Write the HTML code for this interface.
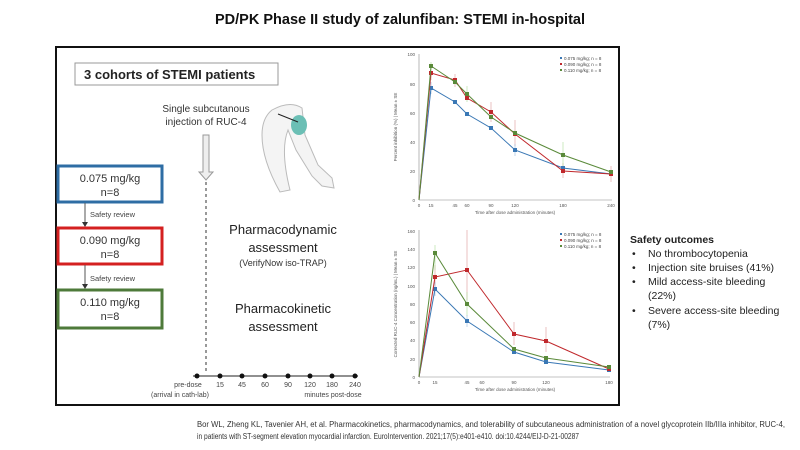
<!DOCTYPE html>
<html><head><meta charset="utf-8"><style>
body{margin:0;background:#fff}
svg{display:block;font-family:"Liberation Sans",sans-serif}
</style></head><body>
<svg width="800" height="450" viewBox="0 0 800 450" xmlns="http://www.w3.org/2000/svg">
<defs>
<marker id="mb" markerWidth="4" markerHeight="4" refX="2" refY="2" markerUnits="userSpaceOnUse"><rect width="4" height="4" fill="#3a78b5"/></marker>
<marker id="mr" markerWidth="4" markerHeight="4" refX="2" refY="2" markerUnits="userSpaceOnUse"><rect width="4" height="4" fill="#c0282c"/></marker>
<marker id="mg" markerWidth="4" markerHeight="4" refX="2" refY="2" markerUnits="userSpaceOnUse"><rect width="4" height="4" fill="#5a8a3a"/></marker>
</defs>
<text x="400" y="24" text-anchor="middle" font-size="14.5" font-weight="bold" fill="#111" textLength="370" lengthAdjust="spacingAndGlyphs">PD/PK Phase II study of zalunfiban: STEMI in-hospital</text>
<!-- frame -->
<rect x="56" y="47" width="563" height="358" fill="none" stroke="#111" stroke-width="2"/>
<!-- cohorts header -->
<rect x="75" y="63" width="203" height="22" fill="#fff" stroke="#999" stroke-width="1"/>
<text x="84" y="79" font-size="13" font-weight="bold" fill="#222">3 cohorts of STEMI patients</text>
<!-- dose boxes -->
<rect x="58" y="166" width="104" height="36" fill="#fff" stroke="#2e6da4" stroke-width="3"/>
<text x="110" y="182" text-anchor="middle" font-size="11" fill="#333">0.075 mg/kg</text>
<text x="110" y="196" text-anchor="middle" font-size="11" fill="#333">n=8</text>
<line x1="85" y1="203" x2="85" y2="225" stroke="#555"/><path d="M82,222 L88,222 L85,227Z" fill="#333"/>
<text x="90" y="217" font-size="7.5" fill="#444">Safety review</text>
<rect x="58" y="228" width="104" height="36" fill="#fff" stroke="#d42020" stroke-width="3"/>
<text x="110" y="244" text-anchor="middle" font-size="11" fill="#333">0.090 mg/kg</text>
<text x="110" y="258" text-anchor="middle" font-size="11" fill="#333">n=8</text>
<line x1="85" y1="265" x2="85" y2="286" stroke="#555"/><path d="M82,284 L88,284 L85,289Z" fill="#333"/>
<text x="90" y="281" font-size="7.5" fill="#444">Safety review</text>
<rect x="58" y="290" width="104" height="38" fill="#fff" stroke="#4e7a3a" stroke-width="3"/>
<text x="110" y="306" text-anchor="middle" font-size="11" fill="#333">0.110 mg/kg</text>
<text x="110" y="320" text-anchor="middle" font-size="11" fill="#333">n=8</text>
<!-- injection -->
<text x="206" y="112" text-anchor="middle" font-size="10" fill="#333">Single subcutanous</text>
<text x="206" y="125" text-anchor="middle" font-size="10" fill="#333">injection of RUC-4</text>
<path d="M203,135 L209,135 L209,172 L213,172 L206,180 L199,172 L203,172Z" fill="#eee" stroke="#999"/>
<line x1="206" y1="182" x2="206" y2="374" stroke="#333" stroke-dasharray="3,3"/>
<!-- arm -->
<path d="M272,110 Q290,100 302,108 L305,135 L318,165 L332,178 L334,188 L322,186 L312,176 L296,150 L288,130 Q280,150 290,190 L280,192 Q262,160 262,135 Q262,118 272,110Z" fill="#f4f4f4" stroke="#bbb" stroke-width="1"/>
<ellipse cx="299" cy="125" rx="8" ry="10" fill="#6bbfb5"/>
<line x1="278" y1="114" x2="298" y2="122" stroke="#222"/>
<!-- assessments -->
<text x="283" y="234" text-anchor="middle" font-size="13" fill="#222">Pharmacodynamic</text>
<text x="283" y="252" text-anchor="middle" font-size="13" fill="#222">assessment</text>
<text x="283" y="266" text-anchor="middle" font-size="9" fill="#333">(VerifyNow iso-TRAP)</text>
<text x="283" y="313" text-anchor="middle" font-size="13" fill="#222">Pharmacokinetic</text>
<text x="283" y="331" text-anchor="middle" font-size="13" fill="#222">assessment</text>
<!-- timeline -->
<line x1="193" y1="376" x2="358" y2="376" stroke="#222"/>
<g fill="#111"><circle cx="197" cy="376" r="2.5"/><circle cx="220" cy="376" r="2.5"/><circle cx="242" cy="376" r="2.5"/><circle cx="265" cy="376" r="2.5"/><circle cx="288" cy="376" r="2.5"/><circle cx="310" cy="376" r="2.5"/><circle cx="332" cy="376" r="2.5"/><circle cx="355" cy="376" r="2.5"/></g>
<g font-size="7" fill="#444" text-anchor="middle"><text x="188" y="387">pre-dose</text><text x="220" y="387">15</text><text x="242" y="387">45</text><text x="265" y="387">60</text><text x="288" y="387">90</text><text x="310" y="387">120</text><text x="332" y="387">180</text><text x="355" y="387">240</text>
<text x="180" y="397">(arrival in cath-lab)</text><text x="333" y="397">minutes post-dose</text></g>

<!-- Chart 1 -->
<g font-size="4.5" fill="#555">
<line x1="419" y1="54" x2="419" y2="200" stroke="#888" stroke-width="0.6"/>
<line x1="419" y1="200" x2="612" y2="200" stroke="#888" stroke-width="0.6"/>
<g text-anchor="end"><text x="415" y="202">0</text><text x="415" y="173">20</text><text x="415" y="144">40</text><text x="415" y="115">60</text><text x="415" y="86">80</text><text x="415" y="56">100</text></g>
<g text-anchor="middle"><text x="419" y="207">0</text><text x="431" y="207">15</text><text x="455" y="207">45</text><text x="467" y="207">60</text><text x="491" y="207">90</text><text x="515" y="207">120</text><text x="563" y="207">180</text><text x="611" y="207">240</text>
<text x="515" y="214">Time after dose administration (minutes)</text></g>
<text transform="translate(397,127) rotate(-90)" text-anchor="middle">Percent inhibition (%) | Mean ± SE</text>
</g>
<g stroke="#d99" stroke-width="0.6"><line x1="431" y1="66" x2="431" y2="80"/><line x1="455" y1="74" x2="455" y2="87"/><line x1="491" y1="102" x2="491" y2="122"/><line x1="515" y1="120" x2="515" y2="146"/><line x1="563" y1="163" x2="563" y2="178"/><line x1="611" y1="166" x2="611" y2="182"/></g>
<g stroke="#ad9" stroke-width="0.6"><line x1="563" y1="142" x2="563" y2="168"/><line x1="467" y1="86" x2="467" y2="102"/><line x1="431" y1="62" x2="431" y2="70"/></g>
<g stroke="#9bd" stroke-width="0.6"><line x1="431" y1="82" x2="431" y2="94"/><line x1="515" y1="144" x2="515" y2="156"/></g>
<g fill="none" stroke-width="1">
<polyline stroke="#3a78b5" marker-mid="url(#mb)" marker-end="url(#mb)" points="419,200 431,88 455,102 467,114 491,128 515,150 563,168 611,174"/>
<polyline stroke="#c0282c" marker-mid="url(#mr)" marker-end="url(#mr)" points="419,200 431,73 455,80 467,98 491,112 515,134 563,171 611,174"/>
<polyline stroke="#5a8a3a" marker-mid="url(#mg)" marker-end="url(#mg)" points="419,200 431,66 455,82 467,94 491,117 515,133 563,155 611,172"/>
</g>
<g font-size="4.5" fill="#444"><rect x="560" y="57" width="2" height="2" fill="#3a78b5"/><text x="564" y="60">0.075 mg/kg; n = 8</text>
<rect x="560" y="63" width="2" height="2" fill="#c0282c"/><text x="564" y="66">0.090 mg/kg; n = 8</text>
<rect x="560" y="69" width="2" height="2" fill="#5a8a3a"/><text x="564" y="72">0.110 mg/kg; n = 8</text></g>

<!-- Chart 2 -->
<g font-size="4.5" fill="#555">
<line x1="419" y1="230" x2="419" y2="377" stroke="#888" stroke-width="0.6"/>
<line x1="419" y1="377" x2="610" y2="377" stroke="#888" stroke-width="0.6"/>
<g text-anchor="end"><text x="415" y="379">0</text><text x="415" y="361">20</text><text x="415" y="342">40</text><text x="415" y="324">60</text><text x="415" y="306">80</text><text x="415" y="288">100</text><text x="415" y="269">120</text><text x="415" y="251">140</text><text x="415" y="233">160</text></g>
<g text-anchor="middle"><text x="419" y="384">0</text><text x="435" y="384">15</text><text x="467" y="384">45</text><text x="482" y="384">60</text><text x="514" y="384">90</text><text x="546" y="384">120</text><text x="609" y="384">180</text>
<text x="515" y="391">Time after dose administration (minutes)</text></g>
<text transform="translate(397,304) rotate(-90)" text-anchor="middle">Corrected RUC-4 Concentration (ng/mL) | Mean ± SE</text>
</g>
<g stroke="#d99" stroke-width="0.6"><line x1="467" y1="230" x2="467" y2="300"/><line x1="514" y1="322" x2="514" y2="345"/><line x1="546" y1="327" x2="546" y2="352"/><line x1="435" y1="265" x2="435" y2="290"/></g>
<g stroke="#ad9" stroke-width="0.6"><line x1="435" y1="245" x2="435" y2="270"/><line x1="467" y1="292" x2="467" y2="316"/></g>
<g stroke="#9bd" stroke-width="0.6"><line x1="435" y1="282" x2="435" y2="296"/><line x1="467" y1="315" x2="467" y2="327"/></g>
<g fill="none" stroke-width="1">
<polyline stroke="#3a78b5" marker-mid="url(#mb)" marker-end="url(#mb)" points="419,377 435,289 467,321 514,352 546,362 609,370"/>
<polyline stroke="#c0282c" marker-mid="url(#mr)" marker-end="url(#mr)" points="419,377 435,277 467,270 514,334 546,341 609,369"/>
<polyline stroke="#5a8a3a" marker-mid="url(#mg)" marker-end="url(#mg)" points="419,377 435,253 467,304 514,349 546,358 609,367"/>
</g>
<g font-size="4.5" fill="#444"><rect x="560" y="233" width="2" height="2" fill="#3a78b5"/><text x="564" y="236">0.075 mg/kg; n = 8</text>
<rect x="560" y="239" width="2" height="2" fill="#c0282c"/><text x="564" y="242">0.090 mg/kg; n = 8</text>
<rect x="560" y="245" width="2" height="2" fill="#5a8a3a"/><text x="564" y="248">0.110 mg/kg; n = 8</text></g>

<!-- Safety -->
<g font-size="10.5" fill="#222">
<text x="630" y="243" font-weight="bold">Safety outcomes</text>
<text x="632" y="257">•</text><text x="648" y="257">No thrombocytopenia</text>
<text x="632" y="271">•</text><text x="648" y="271">Injection site bruises (41%)</text>
<text x="632" y="285">•</text><text x="648" y="285">Mild access-site bleeding</text>
<text x="648" y="299">(22%)</text>
<text x="632" y="314">•</text><text x="648" y="314">Severe access-site bleeding</text>
<text x="648" y="328">(7%)</text>
</g>
<!-- citation -->
<g font-size="8" fill="#333">
<text x="197" y="427" textLength="588" lengthAdjust="spacingAndGlyphs">Bor WL, Zheng KL, Tavenier AH, et al. Pharmacokinetics, pharmacodynamics, and tolerability of subcutaneous administration of a novel glycoprotein IIb/IIIa inhibitor, RUC-4,</text>
<text x="197" y="439" textLength="382" lengthAdjust="spacingAndGlyphs">in patients with ST-segment elevation myocardial infarction. EuroIntervention. 2021;17(5):e401-e410. doi:10.4244/EIJ-D-21-00287</text>
</g>
</svg>
</body></html>
